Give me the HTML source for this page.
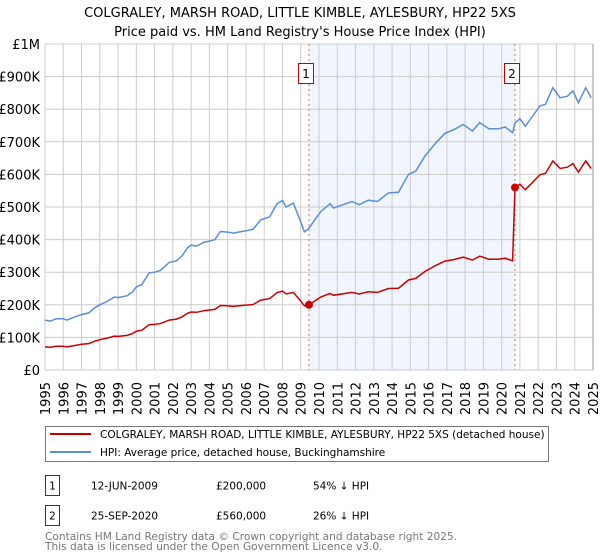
<!DOCTYPE html>
<html><head><meta charset="utf-8"><style>
body{margin:0;background:#fff;width:600px;height:560px;overflow:hidden;font-family:"DejaVu Sans","Liberation Sans",sans-serif;}
svg{display:block}
</style></head><body>
<svg id="chart" width="600" height="560" font-family="DejaVu Sans, Liberation Sans, sans-serif">
<text x="300" y="17" text-anchor="middle" font-size="13">COLGRALEY, MARSH ROAD, LITTLE KIMBLE, AYLESBURY, HP22 5XS</text>
<text x="300" y="36" text-anchor="middle" font-size="13">Price paid vs. HM Land Registry's House Price Index (HPI)</text>
<g id="grid"></g>
<g id="axes"></g>
<g id="series"></g>

<rect x="45.5" y="426.5" width="503" height="35" fill="#fff" stroke="#777"/>
<line x1="50" y1="434" x2="91" y2="434" stroke="#cc0000" stroke-width="2"/>
<text x="100" y="438" font-size="10.5">COLGRALEY, MARSH ROAD, LITTLE KIMBLE, AYLESBURY, HP22 5XS (detached house)</text>
<line x1="50" y1="452" x2="91" y2="452" stroke="#5b8fd4" stroke-width="2"/>
<text x="100" y="456" font-size="10.5">HPI: Average price, detached house, Buckinghamshire</text>

<g font-size="10.5">
<rect x="45.5" y="475.5" width="14" height="20" fill="#fff" stroke="#bb0000"/>
<text x="52.5" y="489.5" text-anchor="middle">1</text>
<text x="91" y="489.5">12-JUN-2009</text>
<text x="216" y="489.5">£200,000</text>
<text x="313" y="489.5">54% ↓ HPI</text>
</g>
<g font-size="10.5">
<rect x="45.5" y="505.5" width="14" height="20" fill="#fff" stroke="#bb0000"/>
<text x="52.5" y="519.5" text-anchor="middle">2</text>
<text x="91" y="519.5">25-SEP-2020</text>
<text x="216" y="519.5">£560,000</text>
<text x="313" y="519.5">26% ↓ HPI</text>
</g>
<text x="45" y="540" font-size="10.6" fill="#777">Contains HM Land Registry data © Crown copyright and database right 2025.</text>
<text x="45" y="550" font-size="10.6" fill="#777">This data is licensed under the Open Government Licence v3.0.</text>
</svg>
<script>
const yearTicks=[1995,1996,1997,1998,1999,2000,2001,2002,2003,2004,2005,2006,2007,2008,2009,2010,2011,2012,2013,2014,2015,2016,2017,2018,2019,2020,2021,2022,2023,2024,2025];
const valueTicks=[0,100,200,300,400,500,600,700,800,900,1000];
const valueTickLabels=["£0","£100K","£200K","£300K","£400K","£500K","£600K","£700K","£800K","£900K","£1M"];
const dates=[1995.0,1995.3,1995.6,1996.0,1996.2,1996.6,1997.0,1997.4,1997.7,1998.0,1998.4,1998.8,1999.0,1999.5,1999.8,2000.0,2000.3,2000.7,2001.0,2001.3,2001.8,2002.2,2002.5,2002.8,2003.0,2003.3,2003.7,2004.0,2004.3,2004.6,2005.0,2005.3,2006.0,2006.4,2006.8,2007.3,2007.7,2008.0,2008.2,2008.6,2008.96,2009.2,2009.45,2009.7,2010.1,2010.6,2010.8,2011.8,2012.2,2012.7,2013.2,2013.8,2014.35,2014.9,2015.3,2015.8,2016.4,2016.9,2017.4,2017.9,2018.4,2018.8,2019.3,2019.8,2020.2,2020.6,2020.73,2021.0,2021.3,2021.7,2022.1,2022.4,2022.8,2023.2,2023.6,2023.9,2024.2,2024.6,2024.9];
const hpiValues=[153,150,157,157,153,162,170,175,190,200,210,224,222,228,240,255,262,298,300,305,330,335,350,375,383,380,392,395,400,425,423,420,427,432,460,470,510,520,500,512,460,424,435,455,486,510,497,517,507,521,517,543,545,600,610,656,697,726,738,753,733,759,740,740,745,728,757,771,748,779,810,815,866,835,840,856,820,866,835];
const priceValues=[71,70,73,73,71,75,79,81,88,93,98,104,103,106,112,119,122,139,140,142,153,156,163,174,178,177,182,184,186,198,197,195,199,201,214,219,237,242,233,238,214,197,200,209,224,235,229,238,233,240,238,250,251,276,281,302,321,334,339,346,337,349,340,340,343,335,560,570,553,576,599,603,641,618,622,633,607,641,618];
const saleDates=[2009.45,2020.73];
const saleValues=[200,560];
const saleLabels=["1","2"];

const NS="http://www.w3.org/2000/svg";
const X0=45,X1=593,Y0=370,Y1=44;
const xs=y=>X0+(y-1995)/(2025-1995)*(X1-X0);
const ys=v=>Y0-v/1000*(Y0-Y1);
function mk(tag,attrs,parent){const e=document.createElementNS(NS,tag);for(const k in attrs)e.setAttribute(k,attrs[k]);parent.appendChild(e);return e;}
const grid=document.getElementById('grid'),axes=document.getElementById('axes'),series=document.getElementById('series');

let sh=mk('rect',{x:xs(saleDates[0]),y:Y1,width:xs(saleDates[1])-xs(saleDates[0]),height:Y0-Y1,fill:'#f1f5fd'},grid);



yearTicks.forEach(t=>{
  let l=mk('line',{x1:xs(t),x2:xs(t),y1:Y1,y2:Y0,stroke:'#cccccc','stroke-width':1},grid);
  
  
  let tx=mk('text',{x:0,y:0,'font-size':13,'text-anchor':'end',transform:`translate(${xs(t)+5},382) rotate(-90)`},axes);
  tx.textContent=t;
  
  
});
valueTicks.forEach((v,i)=>{
  let l=mk('line',{x1:X0,x2:X1,y1:ys(v),y2:ys(v),stroke:'#cccccc','stroke-width':1},grid);
  
  
  let tx=mk('text',{x:40,y:ys(v)+5,'font-size':13,'text-anchor':'end'},axes);
  tx.textContent=valueTickLabels[i];
  
  
});
let rb=mk('line',{x1:X1,x2:X1,y1:Y1,y2:Y0,stroke:'#999','stroke-width':1},grid);



saleDates.forEach((d,i)=>{
  let l=mk('line',{x1:xs(d),x2:xs(d),y1:Y1,y2:Y0,stroke:'#e06666','stroke-width':1,'stroke-dasharray':'2,3'},series);
  
  
});

const pts=arr=>arr.map((v,i)=>xs(dates[i]).toFixed(1)+','+ys(v).toFixed(1)).join(' ');
let hp=mk('polyline',{points:pts(hpiValues),fill:'none',stroke:'#5b8fd4','stroke-width':1.5},series);


let pp=mk('polyline',{points:pts(priceValues),fill:'none',stroke:'#cc0000','stroke-width':1.5},series);



saleDates.forEach((d,i)=>{
  let c=mk('circle',{cx:xs(d),cy:ys(saleValues[i]),r:4,fill:'#cc0000'},series);
  
  
  let b=mk('rect',{x:xs(d)-10.5,y:63.5,width:15,height:20,fill:'#fff',stroke:'#bb0000'},series);
  
  
  let t=mk('text',{x:xs(d)-3,y:78,'font-size':12,'text-anchor':'middle'},series);
  t.textContent=saleLabels[i];
  
  
});
</script>
</body></html>
